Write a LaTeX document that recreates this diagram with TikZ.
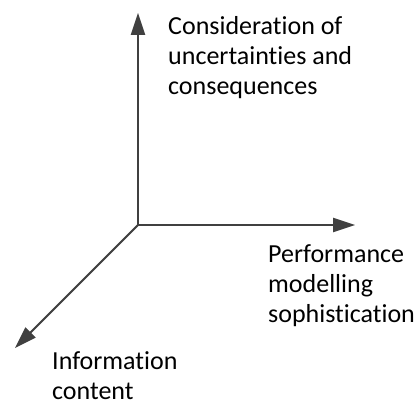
\documentclass[tikz,border=0pt]{standalone}
\usepackage{fontspec}
\setmainfont{Carlito}[Ligatures={NoCommon}]
\usetikzlibrary{arrows.meta,positioning}

\begin{document}
\begin{tikzpicture}[x=1pt, y=1pt,
  every node/.style={font=\fontsize{26}{30}\selectfont, align=left, inner sep=0pt},
  axis/.style={line width=2pt, draw=black!75, -{Triangle[length=22pt, width=14pt]}},
  axisshadow/.style={line width=2pt, draw=black!18, -{Triangle[length=22pt, width=14pt]}}]
  \useasboundingbox (0,0) rectangle (419,405);

  \coordinate (o) at (138,180);
  \coordinate (up) at (138,392);
  \coordinate (rt) at (355,180);
  \coordinate (dn) at (15,57);

  % shadows
  \begin{scope}[shift={(3,-3)}]
    \draw[axisshadow] (o) -- (up);
    \draw[axisshadow] (o) -- (rt);
    \draw[axisshadow] (o) -- (dn);
  \end{scope}

  \draw[axis] (o) -- (up);
  \draw[axis] (o) -- (rt);
  \draw[axis] (o) -- (dn);

  % base anchor sits on the last line
  \node[anchor=base west] (cons) at (168,310) {Consideration of\\uncertainties and\\consequences};
  \node[anchor=base west] (perf) at (268,83) {Performance\\modelling\\sophistication};
  \node[anchor=base west] (info) at (52,6) {Information\\content};
\end{tikzpicture}
\end{document}
